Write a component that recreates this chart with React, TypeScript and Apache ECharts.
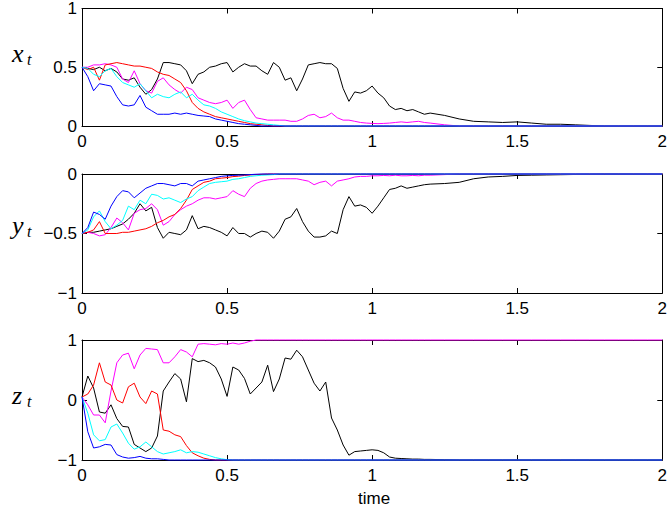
import React, { useEffect, useRef } from "react";
import * as echarts from "echarts";

// time grid
const T = [
  0, 0.02, 0.04, 0.06, 0.08, 0.1, 0.12, 0.14, 0.16, 0.18,
  0.2, 0.22, 0.24, 0.26, 0.28, 0.3, 0.32, 0.34, 0.36, 0.38,
  0.4, 0.42, 0.44, 0.46, 0.48, 0.5, 0.52, 0.54, 0.56, 0.58,
  0.6, 0.62, 0.64, 0.66, 0.68, 0.7, 0.72, 0.74, 0.76, 0.78,
  0.8, 0.82, 0.84, 0.86, 0.88, 0.9, 0.92, 0.94, 0.96, 0.98,
  1.0, 1.02, 1.04, 1.06, 1.08, 1.1, 1.12, 1.14, 1.16, 1.18,
  1.2, 1.25, 1.3, 1.35, 1.4, 1.45, 1.5, 1.55, 1.6, 1.65,
  1.7, 1.75, 1.8, 1.85, 1.9, 1.95, 2.0,
];

// x_t
const xBlack = [
  0.50, 0.49, 0.48, 0.50, 0.47, 0.49, 0.46, 0.40, 0.39, 0.41,
  0.33, 0.27, 0.31, 0.40, 0.54, 0.54, 0.53, 0.52, 0.47, 0.36,
  0.44, 0.46, 0.50, 0.51, 0.53, 0.54, 0.46, 0.50, 0.53, 0.51,
  0.51, 0.47, 0.44, 0.54, 0.50, 0.39, 0.41, 0.30, 0.40, 0.52,
  0.53, 0.54, 0.53, 0.53, 0.49, 0.32, 0.21, 0.29, 0.28, 0.30,
  0.34, 0.28, 0.24, 0.17, 0.14, 0.15, 0.13, 0.14, 0.12, 0.10,
  0.11, 0.09, 0.06, 0.04, 0.035, 0.03, 0.035, 0.025, 0.015, 0.015,
  0.01, 0.005, 0, 0, 0, 0, 0,
];
const xMagenta = [
  0.50, 0.50, 0.52, 0.52, 0.53, 0.52, 0.50, 0.40, 0.37, 0.47,
  0.36, 0.30, 0.28, 0.38, 0.41, 0.35, 0.31, 0.28, 0.33, 0.31,
  0.24, 0.22, 0.20, 0.19, 0.20, 0.22, 0.15, 0.20, 0.22, 0.14,
  0.07, 0.06, 0.05, 0.05, 0.05, 0.05, 0.04, 0.04, 0.06, 0.09,
  0.10, 0.07, 0.08, 0.11, 0.07, 0.05, 0.05, 0.04, 0.03, 0.025,
  0.022, 0.02, 0.022, 0.025, 0.03, 0.035, 0.03, 0.035, 0.04, 0.03,
  0.025, 0.01, 0, 0, 0, 0, 0, 0, 0, 0,
  0, 0, 0, 0, 0, 0, 0,
];
const xRed = [
  0.50, 0.48, 0.50, 0.39, 0.52, 0.53, 0.54, 0.53, 0.52, 0.51,
  0.51, 0.50, 0.49, 0.46, 0.44, 0.43, 0.40, 0.37, 0.30, 0.20,
  0.15, 0.12, 0.10, 0.08, 0.07, 0.06, 0.05, 0.04, 0.03, 0.02,
  0.015, 0.01, 0.005, 0, 0, 0, 0, 0, 0, 0,
  0, 0, 0, 0, 0, 0, 0, 0, 0, 0,
  0, 0, 0, 0, 0, 0, 0, 0, 0, 0,
  0, 0, 0, 0, 0, 0, 0, 0, 0, 0,
  0, 0, 0, 0, 0, 0, 0,
];
const xCyan = [
  0.50, 0.49, 0.44, 0.42, 0.47, 0.49, 0.42, 0.37, 0.35, 0.33,
  0.36, 0.30, 0.24, 0.27, 0.25, 0.24, 0.27, 0.29, 0.24, 0.27,
  0.22, 0.18, 0.17, 0.15, 0.12, 0.10, 0.08, 0.06, 0.045, 0.035,
  0.025, 0.02, 0.015, 0.01, 0.005, 0, 0, 0, 0, 0,
  0, 0, 0, 0, 0, 0, 0, 0, 0, 0,
  0, 0, 0, 0, 0, 0, 0, 0, 0, 0,
  0, 0, 0, 0, 0, 0, 0, 0, 0, 0,
  0, 0, 0, 0, 0, 0, 0,
];
const xBlue = [
  0.50, 0.42, 0.30, 0.36, 0.35, 0.34, 0.25, 0.18, 0.17, 0.18,
  0.26, 0.16, 0.13, 0.10, 0.10, 0.10, 0.11, 0.10, 0.11, 0.10,
  0.09, 0.085, 0.08, 0.06, 0.05, 0.04, 0.03, 0.02, 0.015, 0.01,
  0.005, 0, 0, 0, 0, 0, 0, 0, 0, 0,
  0, 0, 0, 0, 0, 0, 0, 0, 0, 0,
  0, 0, 0, 0, 0, 0, 0, 0, 0, 0,
  0, 0, 0, 0, 0, 0, 0, 0, 0, 0,
  0, 0, 0, 0, 0, 0, 0,
];

// y_t
const yBlack = [
  -0.50, -0.49, -0.49, -0.48, -0.47, -0.46, -0.44, -0.42, -0.38, -0.33,
  -0.25, -0.31, -0.28, -0.45, -0.54, -0.49, -0.50, -0.51, -0.47, -0.35,
  -0.46, -0.44, -0.45, -0.47, -0.49, -0.52, -0.45, -0.50, -0.50, -0.53,
  -0.50, -0.48, -0.49, -0.54, -0.48, -0.38, -0.36, -0.29, -0.40, -0.48,
  -0.53, -0.53, -0.52, -0.48, -0.50, -0.30, -0.19, -0.27, -0.26, -0.28,
  -0.33, -0.27, -0.20, -0.13, -0.12, -0.10, -0.12, -0.11, -0.10, -0.09,
  -0.085, -0.08, -0.07, -0.04, -0.025, -0.02, -0.012, -0.01, -0.008, -0.006,
  -0.004, -0.002, 0, 0, 0, 0, 0,
];
const yMagenta = [
  -0.50, -0.49, -0.50, -0.52, -0.51, -0.45, -0.37, -0.41, -0.47, -0.33,
  -0.30, -0.29, -0.25, -0.30, -0.43, -0.40, -0.34, -0.30, -0.27, -0.25,
  -0.22, -0.20, -0.20, -0.21, -0.20, -0.19, -0.14, -0.17, -0.19, -0.12,
  -0.08, -0.06, -0.05, -0.045, -0.04, -0.04, -0.04, -0.04, -0.05, -0.06,
  -0.09, -0.07, -0.06, -0.10, -0.06, -0.05, -0.04, -0.025, -0.02, -0.02,
  -0.015, -0.015, -0.012, -0.015, -0.01, -0.015, -0.015, -0.012, -0.015, -0.01,
  -0.01, -0.005, 0, 0, 0, 0, 0, 0, 0, 0,
  0, 0, 0, 0, 0, 0, 0,
];
const yRed = [
  -0.50, -0.49, -0.47, -0.40, -0.50, -0.50, -0.50, -0.49, -0.49, -0.48,
  -0.47, -0.46, -0.44, -0.41, -0.39, -0.36, -0.34, -0.29, -0.22, -0.13,
  -0.10, -0.07, -0.06, -0.04, -0.035, -0.03, -0.022, -0.018, -0.012, -0.008,
  -0.005, -0.003, 0, 0, 0, 0, 0, 0, 0, 0,
  0, 0, 0, 0, 0, 0, 0, 0, 0, 0,
  0, 0, 0, 0, 0, 0, 0, 0, 0, 0,
  0, 0, 0, 0, 0, 0, 0, 0, 0, 0,
  0, 0, 0, 0, 0, 0, 0,
];
const yCyan = [
  -0.50, -0.47, -0.36, -0.31, -0.40, -0.46, -0.43, -0.39, -0.27, -0.30,
  -0.22, -0.25, -0.17, -0.18, -0.21, -0.20, -0.22, -0.24, -0.21, -0.19,
  -0.14, -0.11, -0.08, -0.07, -0.065, -0.06, -0.045, -0.04, -0.03, -0.02,
  -0.015, -0.01, -0.008, -0.005, 0, 0, 0, 0, 0, 0,
  0, 0, 0, 0, 0, 0, 0, 0, 0, 0,
  0, 0, 0, 0, 0, 0, 0, 0, 0, 0,
  0, 0, 0, 0, 0, 0, 0, 0, 0, 0,
  0, 0, 0, 0, 0, 0, 0,
];
const yBlue = [
  -0.50, -0.45, -0.32, -0.34, -0.38, -0.27, -0.19, -0.14, -0.15, -0.20,
  -0.16, -0.12, -0.10, -0.08, -0.08, -0.09, -0.10, -0.08, -0.08, -0.10,
  -0.06, -0.05, -0.04, -0.03, -0.02, -0.015, -0.012, -0.01, -0.008, -0.005,
  -0.002, 0, 0, 0, 0, 0, 0, 0, 0, 0,
  0, 0, 0, 0, 0, 0, 0, 0, 0, 0,
  0, 0, 0, 0, 0, 0, 0, 0, 0, 0,
  0, 0, 0, 0, 0, 0, 0, 0, 0, 0,
  0, 0, 0, 0, 0, 0, 0,
];

// z_t
const zBlack = [
  0.05, 0.40, 0.20, -0.20, -0.22, -0.08, -0.31, -0.44, -0.45, -0.74,
  -0.80, -0.86, -0.80, -0.60, 0.15, 0.30, 0.44, 0.35, -0.03, 0.69,
  0.64, 0.66, 0.62, 0.55, 0.35, 0.06, 0.55, 0.50, 0.36, 0.10,
  0.20, 0.30, 0.58, 0.14, 0.35, 0.70, 0.68, 0.83, 0.72, 0.50,
  0.28, 0.15, 0.30, -0.30, -0.50, -0.75, -0.92, -0.86, -0.85, -0.84,
  -0.83, -0.84, -0.88, -0.95, -0.97, -0.975, -0.98, -0.985, -0.985, -0.99,
  -0.99, -0.995, -1, -1, -1, -1, -1, -1, -1, -1,
  -1, -1, -1, -1, -1, -1, -1,
];
const zMagenta = [
  0.05, -0.08, -0.25, -0.25, -0.38, 0.15, 0.62, 0.75, 0.78, 0.52,
  0.75, 0.86, 0.85, 0.84, 0.62, 0.62, 0.72, 0.84, 0.80, 0.72,
  0.93, 0.94, 0.93, 0.92, 0.94, 0.93, 0.95, 0.93, 0.95, 0.98,
  1, 1, 1, 1, 1, 1, 1, 1, 1, 1,
  1, 1, 1, 1, 1, 1, 1, 1, 1, 1,
  1, 1, 1, 1, 1, 1, 1, 1, 1, 1,
  1, 1, 1, 1, 1, 1, 1, 1, 1, 1,
  1, 1, 1, 1, 1, 1, 1,
];
const zRed = [
  0.05, 0.10, 0.25, 0.62, 0.30, 0.25, 0.00, -0.05, 0.22, 0.28,
  0.05, -0.06, 0.15, 0.10, -0.50, -0.52, -0.58, -0.61, -0.76, -0.88,
  -0.93, -0.97, -0.99, -1, -1, -1, -1, -1, -1, -1,
  -1, -1, -1, -1, -1, -1, -1, -1, -1, -1,
  -1, -1, -1, -1, -1, -1, -1, -1, -1, -1,
  -1, -1, -1, -1, -1, -1, -1, -1, -1, -1,
  -1, -1, -1, -1, -1, -1, -1, -1, -1, -1,
  -1, -1, -1, -1, -1, -1, -1,
];
const zCyan = [
  0.05, -0.22, -0.58, -0.68, -0.66, -0.45, -0.40, -0.55, -0.72, -0.82,
  -0.78, -0.70, -0.78, -0.86, -0.90, -0.88, -0.86, -0.83, -0.88, -0.86,
  -0.87, -0.90, -0.93, -0.96, -0.98, -0.995, -1, -1, -1, -1,
  -1, -1, -1, -1, -1, -1, -1, -1, -1, -1,
  -1, -1, -1, -1, -1, -1, -1, -1, -1, -1,
  -1, -1, -1, -1, -1, -1, -1, -1, -1, -1,
  -1, -1, -1, -1, -1, -1, -1, -1, -1, -1,
  -1, -1, -1, -1, -1, -1, -1,
];
const zBlue = [
  0.05, -0.53, -0.80, -0.78, -0.74, -0.75, -0.91, -0.95, -0.97, -0.96,
  -0.94, -0.97, -0.98, -0.98, -0.99, -1, -1, -1, -1, -1,
  -1, -1, -1, -1, -1, -1, -1, -1, -1, -1,
  -1, -1, -1, -1, -1, -1, -1, -1, -1, -1,
  -1, -1, -1, -1, -1, -1, -1, -1, -1, -1,
  -1, -1, -1, -1, -1, -1, -1, -1, -1, -1,
  -1, -1, -1, -1, -1, -1, -1, -1, -1, -1,
  -1, -1, -1, -1, -1, -1, -1,
];

const xTicks = [0, 0.5, 1, 1.5, 2];
const yRanges = [
  { min: 0, max: 1, interval: 0.5 },
  { min: -1, max: 0, interval: 0.5 },
  { min: -1, max: 1, interval: 1 },
];
const panelLabels = ["x", "y", "z"];
const xLabel = "time";

const COLORS = {
  black: "#000000",
  magenta: "#ff00ff",
  red: "#ff0000",
  cyan: "#00ffff",
  blue: "#0000ff",
};

const GRIDS = [
  { top: 6, height: 120 },
  { top: 174, height: 119 },
  { top: 340, height: 120 },
];
const LEFT = 82;
const PLOT_W = 585;
const FONT = "Liberation Sans, Arial, Helvetica, sans-serif";
const SERIF = "'Liberation Serif', 'DejaVu Serif', serif";

function fmt(v: number) {
  return String(v).replace("-", "\u2212");
}

export default function App() {
  const ref = useRef<HTMLDivElement>(null);
  useEffect(() => {
    if (!ref.current) return;
    const chart = echarts.init(ref.current, null, { renderer: "svg" });

    const panels = [
      [xBlack, xMagenta, xRed, xCyan, xBlue],
      [yBlack, yMagenta, yRed, yCyan, yBlue],
      [zBlack, zMagenta, zRed, zCyan, zBlue],
    ];
    const colorOrder = [COLORS.black, COLORS.magenta, COLORS.red, COLORS.cyan, COLORS.blue];

    const grid = GRIDS.map((g) => ({
      left: LEFT,
      width: PLOT_W,
      top: g.top,
      height: g.height,
      containLabel: false,
    }));

    const xAxis: any[] = [];
    const yAxis: any[] = [];
    GRIDS.forEach((_, i) => {
      ["bottom", "top"].forEach((pos) => {
        xAxis.push({
          type: "value",
          gridIndex: i,
          position: pos,
          min: xTicks[0],
          max: xTicks[xTicks.length - 1],
          interval: 0.5,
          axisLine: { show: true, onZero: false, lineStyle: { color: "#000", width: 1 } },
          axisTick: { show: true, inside: true, length: 5, lineStyle: { color: "#000", width: 1 } },
          axisLabel: {
            show: pos === "bottom",
            margin: 7,
            color: "#000",
            fontSize: 17,
            fontFamily: FONT,
            formatter: fmt,
          },
          splitLine: { show: false },
        });
      });
      ["left", "right"].forEach((pos) => {
        yAxis.push({
          type: "value",
          gridIndex: i,
          position: pos,
          min: yRanges[i].min,
          max: yRanges[i].max,
          interval: yRanges[i].interval,
          axisLine: { show: true, onZero: false, lineStyle: { color: "#000", width: 1 } },
          axisTick: { show: true, inside: true, length: 5, lineStyle: { color: "#000", width: 1 } },
          axisLabel: {
            show: pos === "left",
            margin: 5,
            color: "#000",
            fontSize: 17,
            fontFamily: FONT,
            formatter: fmt,
          },
          splitLine: { show: false },
        });
      });
    });

    const series: any[] = [];
    panels.forEach((arrs, i) => {
      arrs.forEach((vals, k) => {
        series.push({
          type: "line",
          xAxisIndex: i * 2,
          yAxisIndex: i * 2,
          data: T.map((t, j) => [t, vals[j]]),
          showSymbol: false,
          symbol: "none",
          clip: false,
          lineStyle: { color: colorOrder[k], width: 1 },
          itemStyle: { color: colorOrder[k] },
          z: 3 + k,
        });
      });
    });

    const labelCenters = [57, 229, 399];
    const graphic: any[] = [];
    panelLabels.forEach((s, i) => {
      graphic.push({
        type: "text",
        left: 12,
        top: labelCenters[i] - 17,
        style: {
          text: s,
          font: "italic 26px " + SERIF,
          fill: "#000",
        },
      });
      graphic.push({
        type: "text",
        left: 27,
        top: labelCenters[i] - 6,
        style: {
          text: "t",
          font: "italic 16px " + SERIF,
          fill: "#000",
        },
      });
    });
    graphic.push({
      type: "text",
      left: 358,
      top: 490,
      style: { text: xLabel, font: "17px " + FONT, fill: "#000" },
    });

    chart.setOption({
      animation: false,
      backgroundColor: "#fff",
      grid,
      xAxis,
      yAxis,
      series,
      graphic,
    });
    return () => chart.dispose();
  }, []);
  return (
    <div
      ref={ref}
      style={{ position: "fixed", left: 0, top: 0, width: 670, height: 514, background: "#fff" }}
    />
  );
}
